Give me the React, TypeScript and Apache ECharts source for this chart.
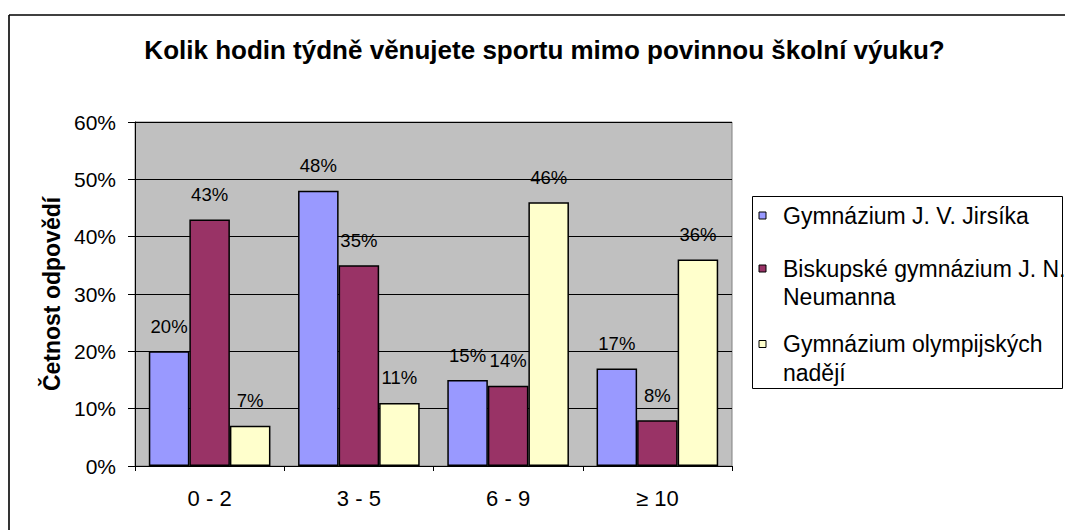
import React, { useEffect, useRef } from "react";
import * as echarts from "echarts";

const categories = ["0 - 2", "3 - 5", "6 - 9", "≥ 10"];
const seriesNames = [
  "Gymnázium J. V. Jirsíka",
  "Biskupské gymnázium J. N. Neumanna",
  "Gymnázium olympijských nadějí",
];
const jirsikValues = [20, 48, 15, 17];
const neumannValues = [43, 35, 14, 8];
const olympValues = [7, 11, 46, 36];
const seriesColors = ["#9999FF", "#993366", "#FFFFCC"];
const legendLines = [
  ["Gymnázium J. V. Jirsíka"],
  ["Biskupské gymnázium J. N.", "Neumanna"],
  ["Gymnázium olympijských", "nadějí"],
];
const titleText = "Kolik hodin týdně věnujete sportu mimo povinnou školní výuku?";
const yAxisTitle = "Četnost odpovědí";

const FONT = "'Liberation Sans', Arial, sans-serif";

export default function App() {
  const ref = useRef<HTMLDivElement>(null);
  useEffect(() => {
    if (!ref.current) return;
    document.body.style.margin = "0";
    const chart = echarts.init(ref.current, undefined, { renderer: "svg" });
    const values = [jirsikValues, neumannValues, olympValues];

    const legendGraphics: any[] = [
      {
        type: "rect",
        shape: { x: 752.5, y: 196.5, width: 310, height: 192 },
        style: { fill: "#fff", stroke: "#000", lineWidth: 1 },
        z: 10,
      },
    ];
    const itemY = [215.5, 268.5, 344];
    legendLines.forEach((lines, i) => {
      legendGraphics.push({
        type: "rect",
        shape: { x: 759, y: itemY[i] - 3.5, width: 7, height: 7 },
        style: { fill: seriesColors[i], stroke: "#000", lineWidth: 1 },
        z: 11,
      });
      lines.forEach((t, j) => {
        legendGraphics.push({
          type: "text",
          x: 783,
          y: itemY[i] + j * 28.5,
          style: {
            text: t,
            fontFamily: FONT,
            fontSize: 23,
            fill: "#000",
            textAlign: "left",
            textVerticalAlign: "middle",
          },
          z: 11,
        });
      });
    });

    chart.setOption({
      animation: false,
      backgroundColor: "#fff",
      textStyle: { fontFamily: FONT },
      grid: {
        left: 135,
        top: 122,
        right: 333,
        bottom: 64,
        show: true,
        backgroundColor: "#C0C0C0",
        borderColor: "#808080",
        borderWidth: 1,
        containLabel: false,
      },
      xAxis: {
        type: "category",
        data: categories,
        axisLine: { lineStyle: { color: "#000", width: 1 } },
        axisTick: { show: true, length: 5, lineStyle: { color: "#000" } },
        axisLabel: { fontSize: 22, color: "#000", margin: 21, fontFamily: FONT },
        splitLine: { show: false },
      },
      yAxis: {
        type: "value",
        min: 0,
        max: 60,
        interval: 10,
        name: yAxisTitle,
        nameLocation: "middle",
        nameGap: 69,
        nameRotate: 90,
        nameTextStyle: { fontSize: 23, fontWeight: "bold", color: "#000", fontFamily: FONT },
        axisLine: { show: true, lineStyle: { color: "#000", width: 1 } },
        axisTick: { show: true, length: 7, lineStyle: { color: "#000" } },
        axisLabel: { fontSize: 21, color: "#000", margin: 19, formatter: "{value}%", fontFamily: FONT },
        splitLine: { show: true, lineStyle: { color: "#000", width: 1 } },
      },
      series: values.map((v, i) => ({
        type: "bar",
        name: seriesNames[i],
        data: v,
        barGap: "0%",
        barCategoryGap: "18.5%",
        itemStyle: { color: seriesColors[i], borderColor: "#000", borderWidth: 1.5 },
        label: {
          show: true,
          position: "top",
          distance: 15.5,
          formatter: "{c}%",
          fontSize: 18.5,
          color: "#000",
          fontFamily: FONT,
        },
      })),
      graphic: [
        {
          type: "line",
          shape: { x1: 9, y1: 15, x2: 9, y2: 530 },
          style: { stroke: "#000", lineWidth: 1.6 },
          z: 5,
          silent: true,
        },
        {
          type: "line",
          shape: { x1: 9, y1: 15, x2: 1065, y2: 15 },
          style: { stroke: "#000", lineWidth: 1.6 },
          z: 5,
          silent: true,
        },
        {
          type: "text",
          x: 544.5,
          y: 50,
          style: {
            text: titleText,
            fontFamily: FONT,
            fontSize: 26,
            fontWeight: "bold",
            fill: "#000",
            textAlign: "center",
            textVerticalAlign: "middle",
          },
          z: 10,
        },
        ...legendGraphics,
      ],
    });
    return () => chart.dispose();
  }, []);
  return (
    <div
      ref={ref}
      style={{ position: "absolute", left: 0, top: 0, width: 1065, height: 530 }}
    />
  );
}
